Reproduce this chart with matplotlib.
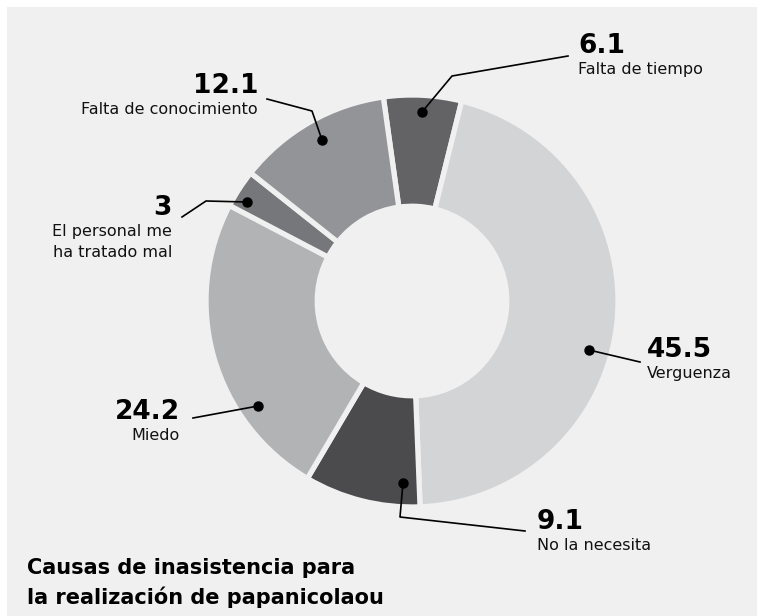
import matplotlib
matplotlib.use('Agg')
import matplotlib.pyplot as plt
from matplotlib.patches import Rectangle

# datos
causas = ['Falta de tiempo', 'Verguenza', 'No la necesita', 'Miedo',
          'El personal me\nha tratado mal', 'Falta de conocimiento']
valores = [6.1, 45.5, 9.1, 24.2, 3, 12.1]
colores = ['#636366', '#d3d4d6', '#4b4b4d', '#b2b3b5', '#76777a', '#939497']
titulo = ['Causas de inasistencia para', 'la realización de papanicolaou']

W, H = 757, 616
CX, CY, R = 412, 301, 206
BG = '#f0f0f0'

# posicion de etiquetas en pixeles: punto, codo, final, texto (x, y), alineacion
etiquetas = [
    ((422, 112), (452, 76), (568, 56), (578, 53), 'left'),
    ((589, 350), None, (640, 362), (647, 357), 'left'),
    ((403, 483), (400, 517), (525, 531), (537, 529), 'left'),
    ((258, 406), None, (193, 418), (180, 419), 'right'),
    ((247, 202), (206, 201), (182, 217), (172, 215), 'right'),
    ((322, 140), (312, 111), (267, 99), (258, 93), 'right'),
]


def px(x, y):
    # pixeles de la imagen -> coordenadas del pie
    return (x - CX) / R, (CY - y) / R


def fig_px(x, y):
    return x / W, 1 - y / H


fig = plt.figure(figsize=(W / 100, H / 100), dpi=100)
fig.patch.set_facecolor('white')
fig.patches.append(Rectangle((7 / W, 0), 1 - 7 / W, 1 - 7 / H, transform=fig.transFigure,
                             facecolor=BG, edgecolor='none', zorder=-10))

ax = fig.add_axes([(CX - R) / W, (H - CY - R) / H, 2 * R / W, 2 * R / H])
ax.set_zorder(1)
ax.set_facecolor('none')
ax.pie(valores, colors=colores, startangle=98, counterclock=False, radius=1,
       wedgeprops=dict(width=0.54, edgecolor=BG, linewidth=3.8))
ax.set_xlim(-1, 1)
ax.set_ylim(-1, 1)
ax.set_aspect('equal')
ax.axis('off')

for i in range(len(valores)):
    punto, codo, fin, texto, ha = etiquetas[i]
    pts = [punto] + ([codo] if codo else []) + [fin]
    xs = [px(*p)[0] for p in pts]
    ys = [px(*p)[1] for p in pts]
    ax.plot(xs, ys, color='black', lw=1.2, clip_on=False, zorder=5)
    ax.plot(xs[0], ys[0], 'o', color='black', ms=6.5, clip_on=False, zorder=6)

    v = valores[i]
    txt = str(int(v)) if v == int(v) else str(v)
    tx, ty = fig_px(*texto)
    fig.text(tx, ty, txt, ha=ha, va='baseline', fontsize=19, fontweight='bold',
             color='black')
    for j, linea in enumerate(causas[i].split('\n')):
        fig.text(tx, ty - (21 + 21 * j) / H, linea, ha=ha, va='baseline',
                 fontsize=11.5, color='#111111')

for j, linea in enumerate(titulo):
    fig.text(27 / W, 1 - (574 + 30 * j) / H, linea, ha='left', va='baseline',
             fontsize=15, fontweight='bold', color='black')

fig.savefig('out.png', dpi=100, facecolor=fig.get_facecolor())
